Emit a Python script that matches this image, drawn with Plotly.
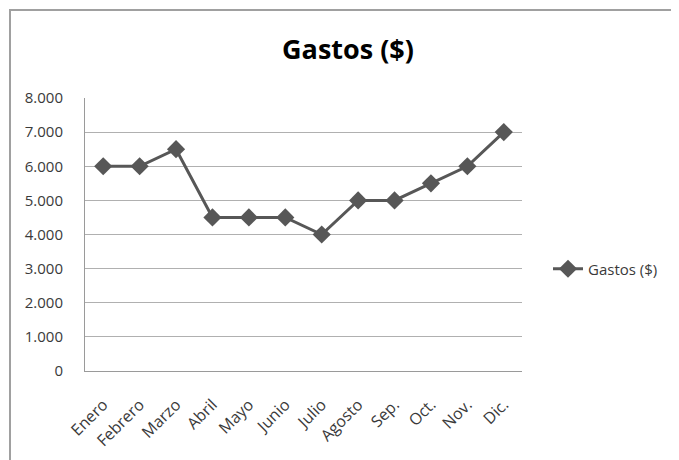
import plotly.graph_objects as go

months = ["Enero", "Febrero", "Marzo", "Abril", "Mayo", "Junio", "Julio",
          "Agosto", "Sep.", "Oct.", "Nov.", "Dic."]
gastos = [6000, 6000, 6500, 4500, 4500, 4500, 4000, 5000, 5000, 5500, 6000, 7000]
series_name = "Gastos ($)"
y_ticks = [0, 1000, 2000, 3000, 4000, 5000, 6000, 7000, 8000]
y_tick_labels = ["0", "1.000", "2.000", "3.000", "4.000", "5.000", "6.000", "7.000", "8.000"]

FONT = "Open Sans"
fig = go.Figure()
fig.add_trace(go.Scatter(
    x=months, y=gastos, name=series_name, mode="lines+markers",
    line=dict(color="#575757", width=3),
    marker=dict(symbol="diamond", size=14, color="#575757"),
))

# page body has an 8px offset; coordinates below are figure coordinates
L, R, T, B = 77, 165, 90, 97
W, H = 679, 460
pw, ph = W - L - R, H - T - B

def px_x(p):
    return (p - L) / pw

def px_y(p):
    return (H - B - p) / ph

fig.update_layout(
    width=W, height=H,
    margin=dict(l=L, r=R, t=T, b=B),
    paper_bgcolor="white", plot_bgcolor="white",
    font=dict(family=FONT, color="#3a3a3a", size=15),
    title=dict(text="<b>Gastos ($)</b>", x=340 / W, xanchor="center",
               y=1 - 42 / H, yanchor="middle",
               font=dict(family=FONT, size=27, color="#000000")),
    showlegend=True,
    legend=dict(x=px_x(540), y=px_y(261), xanchor="left", yanchor="middle",
                font=dict(family=FONT, size=15, color="#3a3a3a"),
                bgcolor="rgba(0,0,0,0)", itemwidth=30),
    xaxis=dict(type="category", showgrid=False, showline=True,
               linecolor="#9a9a9a", linewidth=1, tickangle=-45,
               ticks="", tickfont=dict(family=FONT, size=16, color="#3a3a3a"),
               ticklabelstandoff=17,
               range=[-0.5, len(months) - 0.5], fixedrange=True),
    yaxis=dict(range=[0, 8000], tickvals=y_ticks, ticktext=y_tick_labels,
               showgrid=True, gridcolor="#b0b0b0", gridwidth=1,
               showline=True, linecolor="#9a9a9a", linewidth=1,
               ticks="", ticklen=0, zeroline=False,
               tickfont=dict(family=FONT, size=15, color="#3a3a3a"),
               ticklabelstandoff=18),
    shapes=[dict(type="rect", xref="paper", yref="paper",
                 x0=px_x(2), x1=px_x(720), y0=px_y(520), y1=px_y(2),
                 line=dict(color="#a0a0a0", width=2), layer="below")],
)

fig.write_html("out.html")
